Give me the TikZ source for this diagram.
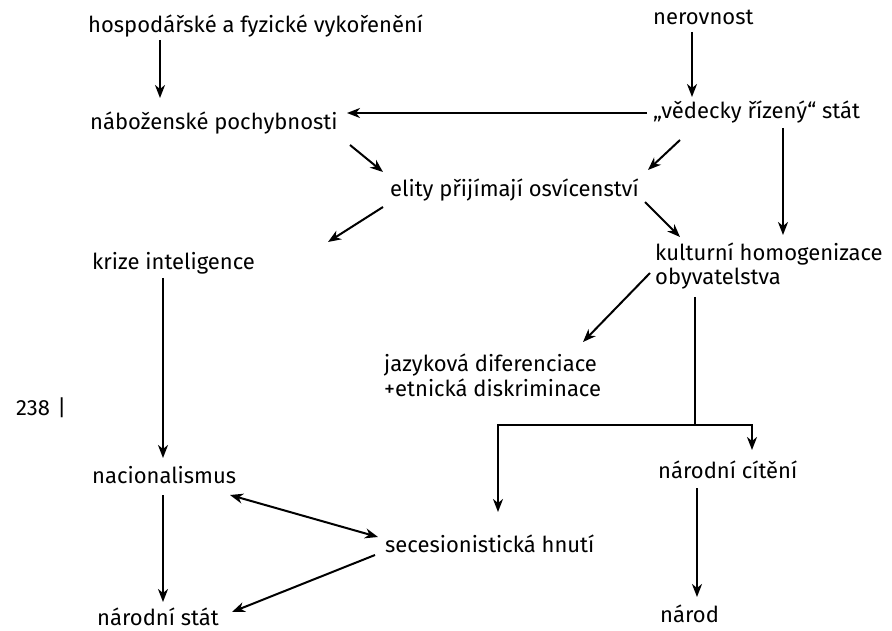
\documentclass[tikz,border=0pt]{standalone}
\usepackage{fontspec}
\setmainfont{Fira Sans}
\usetikzlibrary{arrows.meta}

\begin{document}
\begin{tikzpicture}[x=1pt,y=-1pt,
  hd/.tip={Stealth[length=13pt,width=10pt,inset=4pt]},
  arj/.style={line width=2pt,-hd},
  every node/.style={anchor=base west,inner sep=0pt,align=left,
    font=\fontsize{22}{24.5}\selectfont}]
\useasboundingbox (0,0) rectangle (892,631);
\node (hosp)  at (88,33)   {hospodářské a fyzické vykořenění};
\node (nerov) at (653,25)  {nerovnost};
\node (nab)   at (90,130)  {náboženské pochybnosti};
\node (ved)   at (653,119) {„vědecky řízený“ stát};
\node (elity) at (390,197) {elity přijímají osvícenství};
\node (krize) at (92,270)  {krize inteligence};
\node (kult)  at (655,285) {kulturní homogenizace\\obyvatelstva};
\node (jazyk) at (384,396) {jazyková diferenciace\\+etnická diskriminace};
\node (page)  at (16,415)  {238\,\,|};
\node (nacio) at (92,483)  {nacionalismus};
\node (nc)    at (658,478) {národní cítění};
\node (seces) at (385,552) {secesionistická hnutí};
\node (nstat) at (97,625)  {národní stát};
\node (narod) at (660,622) {národ};
\coordinate (kz) at ([shift={(236,-28)}]krize.base west);
\coordinate (fork) at ([shift={(40,140)}]kult.base west);
\draw[arj] ([shift={(72,7)}]hosp.base west) -- ([shift={(70,-32)}]nab.base west);
\draw[arj] ([shift={(39,7)}]nerov.base west) -- ([shift={(39,-22)}]ved.base west);
\draw[arj] ([shift={(-6,-6)}]ved.base west) -- ([shift={(257,-17)}]nab.base west);
\draw[arj] ([shift={(260,15)}]nab.base west) -- ([shift={(-7,-25)}]elity.base west);
\draw[arj] ([shift={(27,21)}]ved.base west) -- ([shift={(258,-27)}]elity.base west);
\draw[arj] ([shift={(-7,10)}]elity.base west) -- (kz);
\draw[arj] ([shift={(255,5)}]elity.base west) -- ([shift={(25,-48)}]kult.base west);
\draw[arj] ([shift={(130,9)}]ved.base west) -- ([shift={(128,-50)}]kult.base west);
\draw[arj] ([shift={(-5,-12)}]kult.base west) -- ([shift={(199,-54)}]jazyk.base west);
\draw[line width=2pt] ([shift={(40,12)}]kult.base west) -- (fork);
\draw[arj] (fork) -| ([shift={(113,-40)}]seces.base west);
\draw[arj] (fork) -| ([shift={(94,-28)}]nc.base west);
\draw[arj] ([shift={(39,10)}]nc.base west) -- ([shift={(37,-25)}]narod.base west);
\draw[arj] ([shift={(71,8)}]krize.base west) -- ([shift={(71,-25)}]nacio.base west);
\draw[arj,hd-hd] ([shift={(138,12)}]nacio.base west) -- ([shift={(-7,-15)}]seces.base west);
\draw[arj] ([shift={(71,12)}]nacio.base west) -- ([shift={(66,-23)}]nstat.base west);
\draw[arj] ([shift={(-10,3)}]seces.base west) -- ([shift={(135,-13)}]nstat.base west);
\end{tikzpicture}
\end{document}
